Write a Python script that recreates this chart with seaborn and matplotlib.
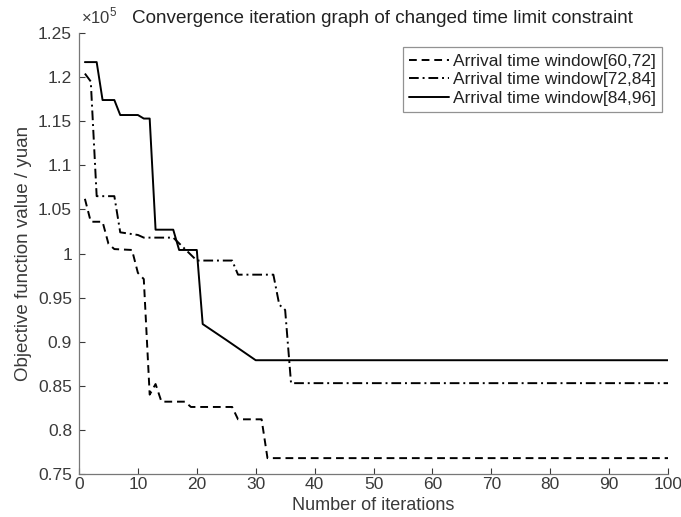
import numpy as np
import pandas as pd
import matplotlib.pyplot as plt
import seaborn as sns
from matplotlib.ticker import FuncFormatter, MultipleLocator

# Breakpoints of each convergence curve, objective value in units of 1e5 yuan
iter_60_72 = [1, 2, 4, 5, 6, 9, 10, 11, 12, 13, 14, 18, 19, 26, 27, 31, 32, 100]
obj_60_72 = [1.062, 1.036, 1.036, 1.011, 1.005, 1.004, 0.978, 0.971, 0.840, 0.852,
             0.832, 0.832, 0.826, 0.826, 0.812, 0.812, 0.768, 0.768]

iter_72_84 = [1, 2, 3, 6, 7, 10, 11, 16, 18, 20, 26, 27, 33, 34, 35, 36, 100]
obj_72_84 = [1.204, 1.195, 1.065, 1.065, 1.024, 1.021, 1.018, 1.018, 1.005, 0.992,
             0.992, 0.976, 0.976, 0.942, 0.936, 0.853, 0.853]

iter_84_96 = [1, 3, 4, 6, 7, 10, 11, 12, 13, 16, 17, 20, 21, 25, 30, 100]
obj_84_96 = [1.217, 1.217, 1.174, 1.174, 1.157, 1.157, 1.153, 1.153, 1.027, 1.027,
             1.004, 1.004, 0.920, 0.902, 0.879, 0.879]

labels = ["Arrival time window[60,72]", "Arrival time window[72,84]", "Arrival time window[84,96]"]

df = pd.concat([
    pd.DataFrame({"iteration": iter_60_72, "value": obj_60_72, "window": labels[0]}),
    pd.DataFrame({"iteration": iter_72_84, "value": obj_72_84, "window": labels[1]}),
    pd.DataFrame({"iteration": iter_84_96, "value": obj_84_96, "window": labels[2]}),
])

sns.set_theme(style="ticks")
plt.rcParams['font.family'] = ['Liberation Sans', 'DejaVu Sans']
plt.rcParams['mathtext.fontset'] = 'custom'
plt.rcParams['mathtext.rm'] = 'Liberation Sans'

fig = plt.figure(figsize=(6.81, 5.17), dpi=100)
# axes box measured in pixels on the reference
ax = fig.add_axes([79 / 681, 43 / 517, 589 / 681, 441 / 517])

sns.lineplot(
    data=df, x="iteration", y="value", style="window", ax=ax,
    color="black", linewidth=1.4, estimator=None, sort=False,
    dashes={labels[0]: (4, 2.5), labels[1]: (5, 2, 1, 2), labels[2]: ""},
)

grey = "#3a3a3a"
ax.set_xlim(0, 100)
ax.set_ylim(0.75, 1.25)
ax.xaxis.set_major_locator(MultipleLocator(10))
ax.yaxis.set_major_locator(MultipleLocator(0.05))
ax.yaxis.set_major_formatter(FuncFormatter(lambda v, p: f"{v:g}"))
ax.tick_params(direction="in", length=4, width=0.8, colors=grey, labelsize=12.5, pad=5)
ax.tick_params(axis="x", pad=2)
for s in ["top", "right"]:
    ax.spines[s].set_visible(False)
for s in ["left", "bottom"]:
    ax.spines[s].set_color("#777777")
    ax.spines[s].set_linewidth(0.9)

ax.set_xlabel("Number of iterations", fontsize=13, color=grey, labelpad=3.5)
ax.set_ylabel("Objective function value / yuan", fontsize=13.5, color=grey, labelpad=4)

fig.text(81 / 681, 1 - 23 / 517, r"$\times10^{5}$", fontsize=12, color=grey, ha="left", va="baseline")
fig.text(382 / 681, 1 - 23 / 517, "Convergence iteration graph of changed time limit constraint",
         fontsize=13.6, color="#222222", ha="center", va="baseline")

leg = ax.legend(loc="upper right", bbox_to_anchor=(0.995, 0.975), fontsize=12.5,
                frameon=True, fancybox=False, handlelength=2.3, handletextpad=0.2,
                borderpad=0.35, labelspacing=0.2, borderaxespad=0.2)
leg.get_frame().set_edgecolor("#777777")
leg.get_frame().set_linewidth(0.9)
for t in leg.get_texts():
    t.set_color("#222222")

fig.savefig("out.png", dpi=100, facecolor="white")
